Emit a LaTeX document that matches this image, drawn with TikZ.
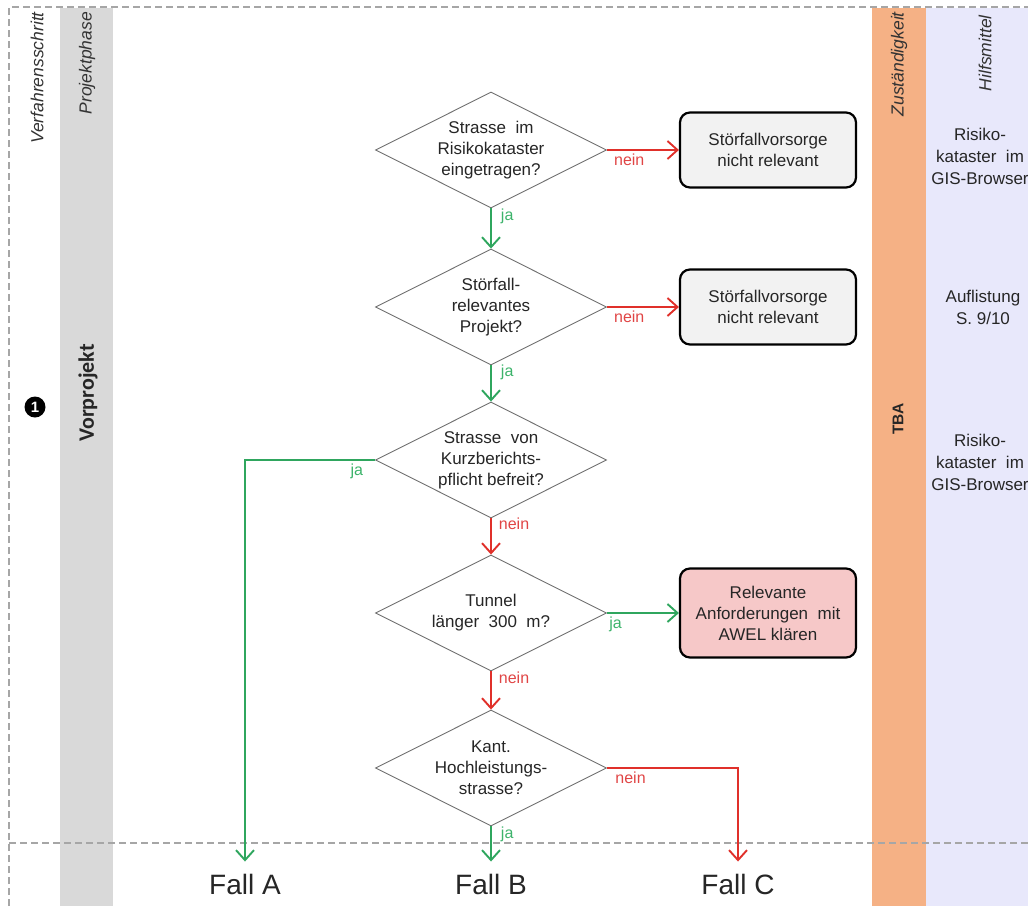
\documentclass[tikz,border=0pt]{standalone}
\usepackage{fontspec}
\setmainfont{Liberation Sans}
\newfontfamily\calfont{Carlito}
\usetikzlibrary{shapes.geometric,arrows.meta,calc}
\definecolor{colgray}{HTML}{D9D9D9}
\definecolor{colorange}{HTML}{F5B185}
\definecolor{collav}{HTML}{E8E8FB}
\definecolor{dashgray}{HTML}{A6A6A6}
\definecolor{diagray}{HTML}{707070}
\definecolor{jagreen}{HTML}{2FA65E}
\definecolor{jalab}{HTML}{3DB36B}
\definecolor{neinred}{HTML}{E0302A}
\definecolor{neinlab}{HTML}{E04545}
\definecolor{boxgray}{HTML}{F2F2F2}
\definecolor{boxpink}{HTML}{F6C8C8}
\newcommand{\mainfs}{\fontsize{17}{21}\selectfont}
\begin{document}
\begin{tikzpicture}[x=1pt,y=-1pt,
  dia/.style={diamond, draw=diagray, line width=0.9pt, fill=white, aspect=2,
    inner sep=0pt, minimum width=231pt, minimum height=116pt, align=center,
    font=\mainfs, text=black!85},
  resbox/.style={rectangle, rounded corners=10pt, draw=black, line width=2.2pt,
    minimum width=176pt, minimum height=75pt, align=center, font=\mainfs, text=black!85},
  yesarrow/.style={draw=jagreen, line width=1.9pt,
    -{Straight Barb[length=10pt,width=18pt,line width=1.9pt]}},
  noarrow/.style={draw=neinred, line width=1.9pt,
    -{Straight Barb[length=10pt,width=18pt,line width=1.9pt]}},
  jalabel/.style={font=\fontsize{16}{16}\selectfont, text=jalab, inner sep=3pt},
  neinlabel/.style={font=\fontsize{16}{16}\selectfont, text=neinlab, inner sep=3pt},
  falltext/.style={font=\fontsize{28}{28}\selectfont, text=black!85, inner xsep=0pt, inner ysep=12pt},
  hdr/.style={rotate=90, anchor=east, font=\itshape\fontsize{17.5}{17.5}\selectfont, text=black!80, inner sep=0pt},
  sidetext/.style={align=center, font=\fontsize{17}{22}\selectfont, text=black!85},
  dashline/.style={draw=dashgray, line width=1.1pt, dash pattern=on 7pt off 4pt}
]
\useasboundingbox (0,0) rectangle (1028,906);
% columns
\fill[colgray] (60,8) rectangle (113,906);
\fill[colorange] (872,8) rectangle (926,906);
\fill[collav] (926,8) rectangle (1028,906);
% frame
\draw[dashline] (9,906) -- (9,7) -- (1028,7);
\draw[dashline] (9,843) -- (1028,843);
% headers
\node[hdr] (hv) at (37,12) {Verfahrensschritt};
\node[hdr] (hp) at (87,12) {Projektphase};
\node[hdr] (hz) at (899,12) {Zuständigkeit};
\node[hdr] (hh) at (985,15) {Hilfsmittel};
\node[circle, fill=black, text=white, inner sep=0pt, minimum size=21pt,
  font=\bfseries\fontsize{15}{15}\selectfont] (num) at (35,407) {1};
\node[rotate=90, font=\calfont\bfseries\fontsize{22}{22}\selectfont, text=black!85] (vp) at (88,393) {Vorprojekt};
\node[rotate=90, font=\bfseries\fontsize{15.5}{15.5}\selectfont, text=black!85] (tba) at (898,419) {TBA};
% side texts
\node[sidetext] (s1) at (980,156) {Risiko-\\kataster~~im\\GIS-Browser};
\node[sidetext] (s2) at (983,307) {Auflistung\\S. 9/10};
\node[sidetext] (s3) at (980,462) {Risiko-\\kataster~~im\\GIS-Browser};
% diamonds
\node[dia] (d1) at (491,150) {Strasse~~im\\Risikokataster\\eingetragen?};
\node[dia] (d2) at (491,307) {Störfall-\\relevantes\\Projekt?};
\node[dia] (d3) at (491,460) {Strasse~~von\\Kurzberichts-\\pflicht befreit?};
\node[dia] (d4) at (491,613) {Tunnel\\länger~~300~~m?};
\node[dia] (d5) at (491,768) {Kant.\\Hochleistungs-\\strasse?};
% boxes
\node[resbox, fill=boxgray] (b1) at (768,150) {Störfallvorsorge\\nicht relevant};
\node[resbox, fill=boxgray] (b2) at (768,307) {Störfallvorsorge\\nicht relevant};
\node[resbox, fill=boxpink, minimum height=89pt] (b3) at (768,613) {Relevante\\Anforderungen~~mit\\AWEL klären};
% outcomes
\node[falltext] (fa) at (245,884) {Fall A};
\node[falltext] (fb) at (491,884) {Fall B};
\node[falltext] (fc) at (738,884) {Fall C};
% connectors
\draw[noarrow] (d1.east) -- node[neinlabel, pos=0.31, below] {nein} (b1.west);
\draw[yesarrow] (d1.south) -- node[jalabel, pos=0.2, right, xshift=6pt] {ja} (d2.north);
\draw[noarrow] (d2.east) -- node[neinlabel, pos=0.31, below] {nein} (b2.west);
\draw[yesarrow] (d2.south) -- node[jalabel, pos=0.2, right, xshift=6pt] {ja} (d3.north);
\draw[yesarrow] (d3.west) -| node[jalabel, pos=0.07, below] {ja} (fa.north);
\draw[noarrow] (d3.south) -- node[neinlabel, pos=0.15, right, xshift=4pt] {nein} (d4.north);
\draw[yesarrow] (d4.east) -- node[jalabel, pos=0.12, below] {ja} (b3.west);
\draw[noarrow] (d4.south) -- node[neinlabel, pos=0.17, right, xshift=4pt] {nein} (d5.north);
\draw[yesarrow] (d5.south) -- node[jalabel, pos=0.22, right, xshift=6pt] {ja} (fb.north);
\draw[noarrow] (d5.east) -| node[neinlabel, pos=0.09, below] {nein} (fc.north);
\end{tikzpicture}
\end{document}
